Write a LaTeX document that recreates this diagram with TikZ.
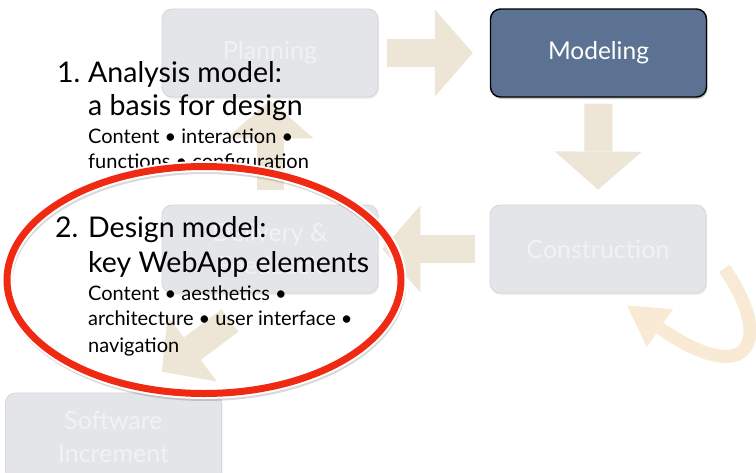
\documentclass[tikz,border=0pt]{standalone}
\usepackage{fontspec}
\setmainfont{Lato}
\usetikzlibrary{arrows.meta,shadows}

\definecolor{boxfill}{HTML}{E4E5E8}
\definecolor{boxline}{HTML}{D5D6DA}
\definecolor{boxtext}{HTML}{F1F2F4}
\definecolor{modelblue}{HTML}{5B7292}
\definecolor{flowtan}{HTML}{EDE5D6}
\definecolor{looppeach}{HTML}{F9EAD6}
\definecolor{markred}{HTML}{F02A12}

\tikzset{
  stage/.style={draw=boxline, fill=boxfill, rounded corners=10pt, line width=0.8pt,
    minimum width=216pt, minimum height=88pt, align=center, text=boxtext,
    font=\fontsize{25}{33}\selectfont,
    drop shadow={opacity=0.12, shadow xshift=1pt, shadow yshift=-2pt}},
  current/.style={stage, draw=black, line width=1.4pt, fill=modelblue, text=white,
    font=\fontsize{24.5}{33}\selectfont,
    drop shadow={opacity=0.35, shadow xshift=1pt, shadow yshift=-2pt}},
  flow/.style={draw=flowtan, line width=28pt,
    -{Triangle[width=87pt,length=38pt,line width=0pt]}},
  headline/.style={anchor=base west, inner sep=0pt, font=\fontsize{28.5}{33}\selectfont},
  detail/.style={anchor=base west, inner sep=0pt, font=\fontsize{20}{25}\selectfont}
}

\begin{document}
\begin{tikzpicture}[x=1pt, y=-1pt]

\useasboundingbox (0,0) rectangle (756,472);
\fill[white] (0,0) rectangle (756,472);

% stages
	\node[stage] (plan) at (270,53) {Planning};
	\node[current] (model) at (598.5,53) {Modeling};
	\node[stage] (constr) at (598,249) {Construction};
	\node[stage] (deliv) at (270,249) {Delivery \&\\Feedback};
	\node[stage] (soft) at (113.5,437) {Software\\Increment};

% process arrows
	\draw[flow, shorten <=9pt, shorten >=17pt] (plan.east) -- (model.west);
	\draw[flow, shorten <=6pt, shorten >=15pt] (model.south) -- (constr.north);
	\draw[flow, shorten <=15pt, shorten >=4pt] (constr.west) -- (deliv.east);
	\draw[flow, line width=27pt, shorten <=15pt, shorten >=3pt] (deliv.north) -- (plan.south);
	\draw[flow, -{Triangle[width=82pt,length=38pt,line width=0pt]}]
		([shift={(-40,27)}]deliv.south) -- ([shift={(-60,-21)}]soft.north east);
	\draw[draw=looppeach, line width=13pt, -{Triangle[width=46pt,length=40pt,line width=0pt]}]
		([shift={(18,-25)}]constr.south east) .. controls +(50,72) and +(123,85) .. ([shift={(29,12)}]constr.south);

% notes
	\node[headline] (n1) at (57,82) {1.};
	\node[headline] (a1) at (88,82) {Analysis model:};
	\node[headline] (a2) at (88,115) {a basis for design};
	\node[detail] (a3) at (88,143) {Content • interaction •};
	\node[detail] (a4) at (88,168) {functions • configuration};

	\node[headline] (n2) at (55,237) {2.};
	\node[headline] (d1) at (88,237) {Design model:};
	\node[headline] (d2) at (88,272) {key WebApp elements};
	\node[detail] (d3) at (88,300) {Content • aesthetics •};
	\node[detail] (d4) at (88,325) {architecture • user interface •};
	\node[detail] (d5) at (88,352) {navigation};

% highlight
	\draw[black, opacity=0.15, line width=9pt] (205,283) ellipse [x radius=197, y radius=113.5];
	\draw[white, line width=11pt] (204,280) ellipse [x radius=197, y radius=113.5];
	\draw[markred, line width=7pt] (204,280) ellipse [x radius=197, y radius=113.5];

\end{tikzpicture}
\end{document}
